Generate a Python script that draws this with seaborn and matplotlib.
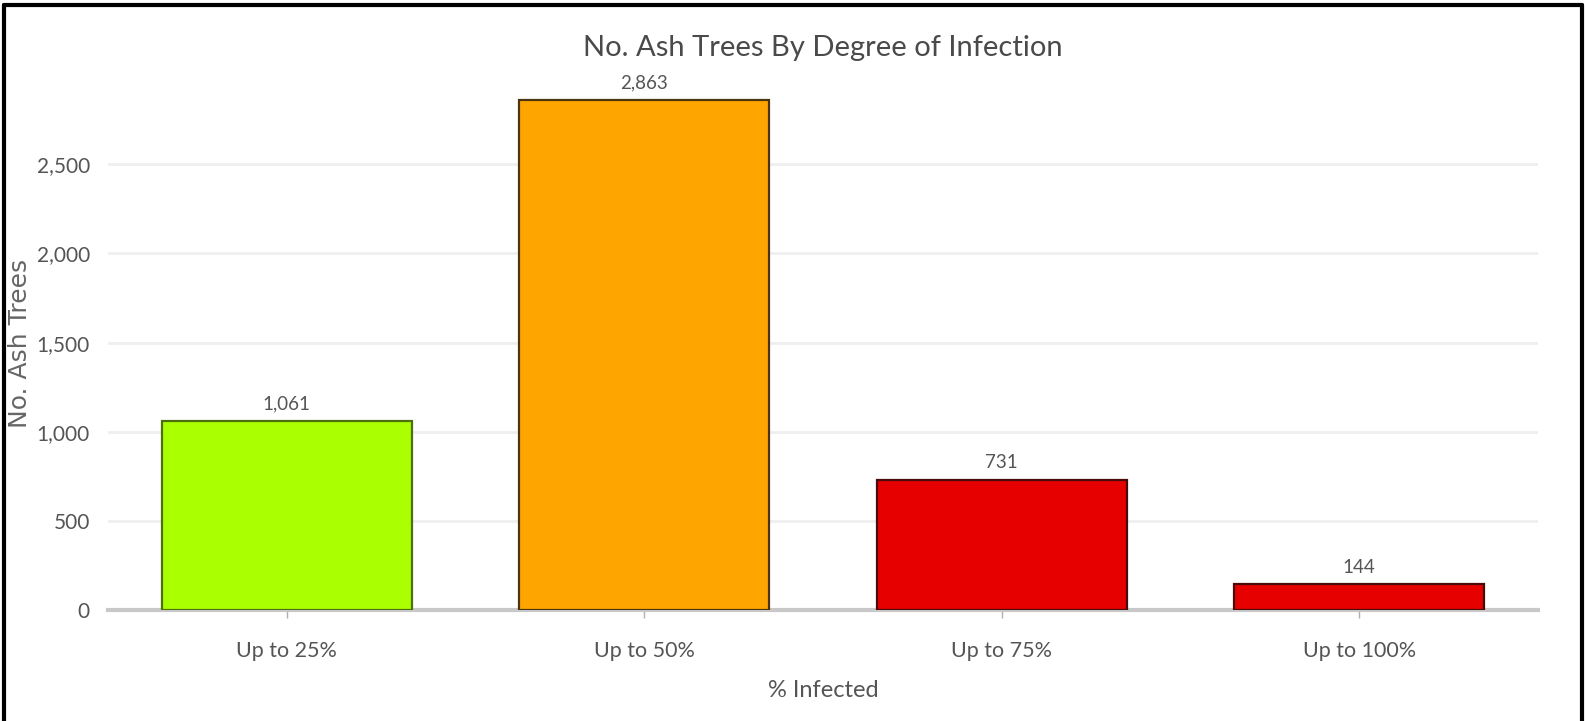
import matplotlib
matplotlib.use("Agg")
import matplotlib.pyplot as plt
from matplotlib.lines import Line2D
from matplotlib.ticker import FuncFormatter, MultipleLocator
import seaborn as sns
import pandas as pd

# Data
categories = ["Up to 25%", "Up to 50%", "Up to 75%", "Up to 100%"]
tree_counts = [1061, 2863, 731, 144]
bar_colors = ["#AAFF00", "#FFA500", "#E60000", "#E60000"]
edge_colors = ["#4E6E10", "#4A3510", "#4A0A0A", "#4A0A0A"]

df = pd.DataFrame({"category": categories, "count": tree_counts})

sns.set_theme(style="white")
plt.rcParams["font.family"] = ["Lato", "DejaVu Sans"]

fig = plt.figure(figsize=(15.85, 7.21), dpi=100)
ax = fig.add_axes([108 / 1585, 111 / 721, 1430 / 1585, 533 / 721])

sns.barplot(data=df, x="category", y="count", hue="category",
            palette=bar_colors, legend=False, width=0.7, ax=ax,
            linewidth=1.6, saturation=1)
for patch, ec in zip(ax.patches, edge_colors):
    patch.set_edgecolor(ec)
    patch.set_zorder(3)

ax.set_xlim(-0.5, len(categories) - 0.5)
ax.set_ylim(0, 2990)
ax.yaxis.set_major_locator(MultipleLocator(500))
ax.yaxis.set_major_formatter(FuncFormatter(lambda v, p: f"{int(v):,}"))

# Gridlines and baseline
ax.grid(axis="y", color="#EFEFEF", linewidth=2, zorder=0)
ax.grid(axis="x", visible=False)
ax.set_axisbelow(True)
for side in ["top", "right", "left"]:
    ax.spines[side].set_visible(False)
ax.spines["bottom"].set_color("#C8C8C8")
ax.spines["bottom"].set_linewidth(3)
ax.spines["bottom"].set_zorder(2)

ax.tick_params(axis="y", length=0, pad=13, labelsize=15, labelcolor="#555555")
ax.tick_params(axis="x", length=6, width=1, color="#B0B0B0", direction="out",
               pad=16, labelsize=15.5, labelcolor="#555555", bottom=True)

# Value labels above bars
for i, v in enumerate(tree_counts):
    ax.annotate(f"{v:,}", xy=(i, v), xytext=(0, 6), textcoords="offset points",
                ha="center", va="bottom", fontsize=13.5, color="#555555")

ax.set_xlabel("% Infected", fontsize=17, color="#555555", labelpad=14)
ax.set_ylabel("No. Ash Trees", fontsize=18, color="#666666",
              fontfamily="DejaVu Sans")
ax.yaxis.set_label_coords(-0.053, 0.5)
ax.set_title("No. Ash Trees By Degree of Infection", fontsize=21,
             color="#4A4A4A", pad=15)

# Frame around the figure
frame_kw = dict(transform=fig.transFigure, color="black", linewidth=3)
fig.add_artist(Line2D([4 / 1585, 4 / 1585], [0, 1 - 5 / 721], **frame_kw))
fig.add_artist(Line2D([4 / 1585, 1582 / 1585], [1 - 5 / 721, 1 - 5 / 721], **frame_kw))
fig.add_artist(Line2D([1582 / 1585, 1582 / 1585], [0, 1 - 5 / 721], **frame_kw))

fig.savefig("out.png", dpi=100)
